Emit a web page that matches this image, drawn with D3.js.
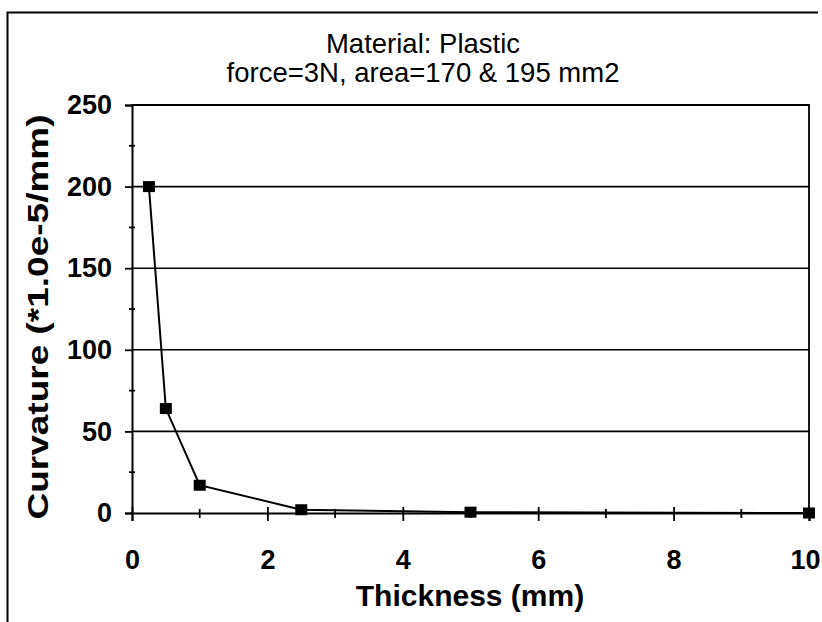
<!DOCTYPE html>
<html>
<head>
<meta charset="utf-8">
<script src="https://cdn.jsdelivr.net/npm/d3@7"></script>
<style>
  html, body { margin: 0; padding: 0; background: #fff; }
  svg { display: block; }
  text { font-family: "Liberation Sans", Arial, Helvetica, sans-serif; fill: #000; }
</style>
</head>
<body>
<svg id="chart" width="822" height="622"></svg>
<script>
// ---- data ----
const thickness = [0.25, 0.5, 1, 2.5, 5, 10];
const curvature = [200, 64, 17, 2, 0.5, 0];
const xTicks = [0, 2, 4, 6, 8, 10];
const xMinorTicks = [1, 3, 5, 7, 9];
const yTicks = [0, 50, 100, 150, 200, 250];
const yMinorTicks = [25, 75, 125, 175, 225];
const titleLines = ["Material: Plastic", "force=3N, area=170 & 195 mm2"];
const xTitle = "Thickness (mm)";
const yTitle = "Curvature (*1.0e-5/mm)";

const svg = d3.select("#chart");
const plot = { left: 132, right: 809, top: 105, bottom: 513 };

const x = d3.scaleLinear().domain([0, 10]).range([plot.left, plot.right]);
const y = d3.scaleLinear().domain([0, 250]).range([plot.bottom, plot.top]);

// outer frame (top and left edges visible)
svg.append("path")
  .attr("d", `M7.5,622 L7.5,12.5 L818,12.5`)
  .attr("fill", "none").attr("stroke", "#000").attr("stroke-width", 2);

// gridlines
svg.append("g").selectAll("line").data(yTicks.filter(d => d > 0 && d < 250)).join("line")
  .attr("x1", plot.left).attr("x2", plot.right)
  .attr("y1", d => y(d)).attr("y2", d => y(d))
  .attr("stroke", "#000").attr("stroke-width", 1.6);

// plot border top & right
svg.append("path")
  .attr("d", `M${plot.left},${y(250)} L${plot.right},${y(250)} L${plot.right},${y(0)}`)
  .attr("fill", "none").attr("stroke", "#000").attr("stroke-width", 1.8);

// y axis
const yAxis = d3.axisLeft(y).tickValues(yTicks).tickSize(7).tickPadding(13).tickFormat(d3.format("d"));
const gy = svg.append("g").attr("transform", `translate(${plot.left},0)`).call(yAxis);
gy.select(".domain").attr("stroke-width", 2);
gy.selectAll(".tick line").attr("stroke-width", 1.8);
gy.selectAll(".tick text")
  .attr("font-size", 27).attr("font-weight", "bold")
  .attr("font-family", "Liberation Sans, Arial, sans-serif");
gy.append("g").selectAll("line").data(yMinorTicks).join("line")
  .attr("x1", -3).attr("x2", 3)
  .attr("y1", d => y(d)).attr("y2", d => y(d))
  .attr("stroke", "#000").attr("stroke-width", 1.8);

// x axis
const xAxis = d3.axisBottom(x).tickValues(xTicks).tickSize(8).tickPadding(29).tickFormat(d3.format("d"));
const gx = svg.append("g").attr("transform", `translate(0,${plot.bottom})`).call(xAxis);
gx.select(".domain").attr("stroke-width", 2);
gx.selectAll(".tick line").attr("y1", -6).attr("stroke-width", 1.8);
gx.selectAll(".tick text")
  .attr("font-size", 27).attr("font-weight", "bold")
  .attr("font-family", "Liberation Sans, Arial, sans-serif")
  .attr("dx", d => d === 10 ? -4 : 0);
gx.append("g").selectAll("line").data(xMinorTicks).join("line")
  .attr("x1", d => x(d)).attr("x2", d => x(d))
  .attr("y1", -4).attr("y2", 5)
  .attr("stroke", "#000").attr("stroke-width", 1.8);

// line
const pts = thickness.map((t, i) => [t, curvature[i]]);
svg.append("path")
  .datum(pts)
  .attr("fill", "none").attr("stroke", "#000").attr("stroke-width", 2)
  .attr("d", d3.line().x(d => x(d[0])).y(d => y(d[1])));

// markers
svg.append("g").selectAll("rect").data(pts).join("rect")
  .attr("x", d => x(d[0]) - 6).attr("y", d => y(d[1]) - 5.5)
  .attr("width", 12).attr("height", 11)
  .attr("fill", "#000");

// titles
svg.append("text").attr("x", 423).attr("y", 53).attr("text-anchor", "middle")
  .attr("font-size", 27.5).text(titleLines[0]);
svg.append("text").attr("x", 423).attr("y", 82).attr("text-anchor", "middle")
  .attr("font-size", 27.5).text(titleLines[1]);

svg.append("text").attr("x", 470).attr("y", 606).attr("text-anchor", "middle")
  .attr("font-size", 30).attr("font-weight", "bold").text(xTitle);

svg.append("text")
  .attr("transform", `translate(48,${(plot.top + plot.bottom) / 2 + 8}) rotate(-90)`)
  .attr("text-anchor", "middle")
  .attr("font-size", 30).attr("font-weight", "bold")
  .attr("textLength", 405).attr("lengthAdjust", "spacingAndGlyphs")
  .text(yTitle);
</script>
</body>
</html>
